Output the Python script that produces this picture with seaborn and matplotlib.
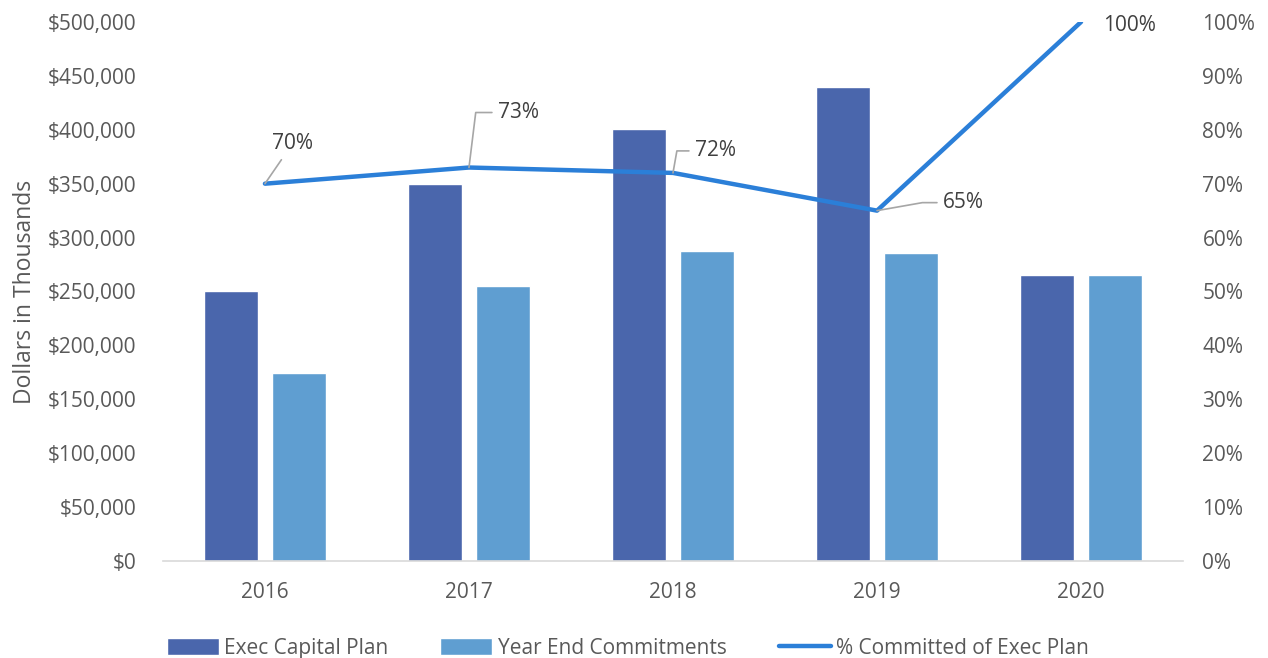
import numpy as np
import pandas as pd
import seaborn as sns
import matplotlib.pyplot as plt
from matplotlib.ticker import FuncFormatter, PercentFormatter
from matplotlib.lines import Line2D
from matplotlib.patches import Patch

# data (dollars in thousands)
years = ["2016", "2017", "2018", "2019", "2020"]
exec_plan = [250000, 350000, 401000, 440000, 265000]
commitments = [174000, 255000, 288000, 286000, 265000]
pct_committed = [0.70, 0.73, 0.72, 0.65, 1.00]

series_names = ["Exec Capital Plan", "Year End Commitments"]
line_name = "% Committed of Exec Plan"

df = pd.DataFrame({
    "Year": years * 2,
    "Value": exec_plan + commitments,
    "Series": [series_names[0]] * 5 + [series_names[1]] * 5,
})

sns.set_style("white")
plt.rcParams["font.family"] = ["Open Sans", "DejaVu Sans"]

dark = "#4A66AC"
light = "#5F9ED1"
line_c = "#2B7FD8"
txt = "#595959"
fs = 15

fig = plt.figure(figsize=(12.68, 6.58), dpi=100)
ax = fig.add_axes([0.1285, 0.1474, 0.8045, 0.8192])

sns.barplot(data=df, x="Year", y="Value", hue="Series", palette=[dark, light],
            saturation=1, width=0.667, gap=0.2, ax=ax, legend=False)
ax.set_xlim(-0.5, 4.5)
ax.set_ylim(0, 500000)
ax.set_yticks(np.arange(0, 500001, 50000))
ax.yaxis.set_major_formatter(FuncFormatter(lambda v, p: f"${v:,.0f}"))
ax.set_xlabel("")
ax.set_ylabel("Dollars in Thousands", fontsize=16.5, color=txt, labelpad=8)
ax.tick_params(axis="both", length=0, labelsize=fs, labelcolor=txt)
ax.tick_params(axis="y", pad=19)
ax.tick_params(axis="x", pad=15)
for s in ["top", "right", "left"]:
    ax.spines[s].set_visible(False)
ax.spines["bottom"].set_color("#D9D9D9")
ax.spines["bottom"].set_linewidth(1.2)

ax2 = ax.twinx()
sns.lineplot(x=np.arange(len(years)), y=pct_committed, color=line_c,
             linewidth=3.2, ax=ax2)
ax2.set_ylim(0, 1)
ax2.set_yticks(np.arange(0, 1.01, 0.1))
ax2.yaxis.set_major_formatter(PercentFormatter(1.0, decimals=0))
ax2.tick_params(axis="y", length=0, labelsize=fs, labelcolor=txt, pad=14)
for s in ax2.spines.values():
    s.set_visible(False)

# data labels with leader lines
lbl = dict(textcoords="offset pixels", fontsize=fs, color="#404040",
           ha="left", va="center")
lead = dict(arrowstyle="-", color="#A6A6A6", lw=1.2, shrinkA=2, shrinkB=0)
ax2.annotate("70%", (0, pct_committed[0]), xytext=(7, 40),
             arrowprops=dict(lead), **lbl)
ax2.annotate("73%", (1, pct_committed[1]), xytext=(29, 55),
             arrowprops=dict(lead, connectionstyle="angle,angleA=0,angleB=83,rad=0"), **lbl)
ax2.annotate("72%", (2, pct_committed[2]), xytext=(22, 22),
             arrowprops=dict(lead, connectionstyle="angle,angleA=0,angleB=80,rad=0"), **lbl)
ax2.annotate("65%", (3, pct_committed[3]), xytext=(66, 8),
             arrowprops=dict(lead, connectionstyle="angle,angleA=0,angleB=10,rad=0"), **lbl)
ax2.annotate("100%", (4, pct_committed[4]), xytext=(22, -4), **lbl)

handles = [Patch(facecolor=dark), Patch(facecolor=light),
           Line2D([0], [0], color=line_c, linewidth=3.2)]
fig.legend(handles, series_names + [line_name], loc="lower center",
           bbox_to_anchor=(0.495, -0.03), ncol=3, frameon=False, fontsize=fs,
           labelcolor=txt, handlelength=2.5, handleheight=0.85,
           handletextpad=0.25, columnspacing=2.5)

fig.savefig("out.png", dpi=100)
